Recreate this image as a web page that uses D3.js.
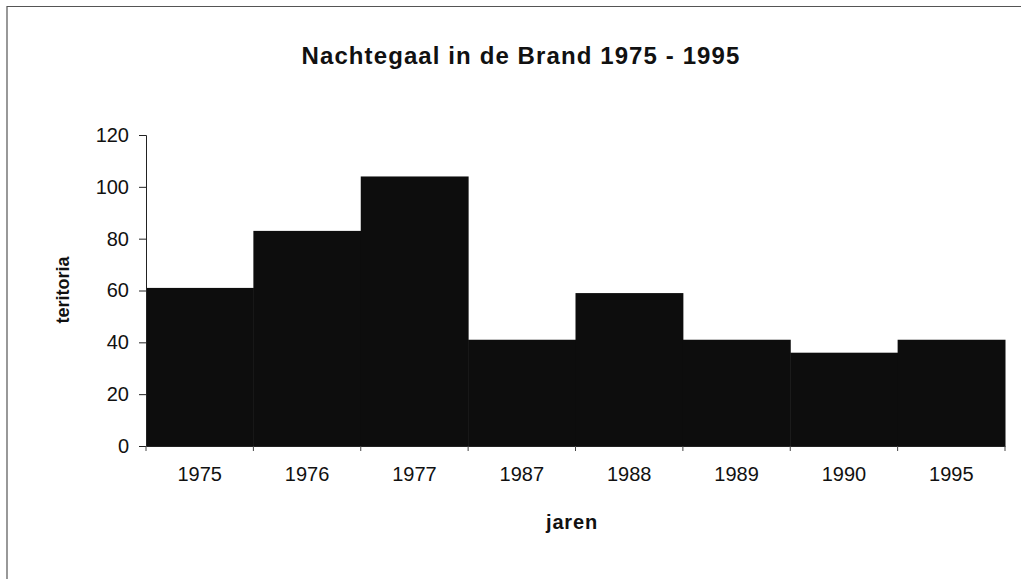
<!DOCTYPE html>
<html lang="nl">
<head>
<meta charset="UTF-8">
<title>Nachtegaal in de Brand 1975 - 1995</title>
<style>
  body { margin: 0; background: #fff; }
  svg { display: block; font-family: "Liberation Sans", Arial, sans-serif; }
  .tick text { fill: #111; }
</style>
</head>
<body>
<svg id="chart" width="1021" height="579"></svg>
<script src="https://d3js.org/d3.v7.min.js"></script>
<script>
// data
var years = ["1975", "1976", "1977", "1987", "1988", "1989", "1990", "1995"];
var territoria = [61, 83, 104, 41, 59, 41, 36, 41];
var yTicks = [0, 20, 40, 60, 80, 100, 120];

var width = 1021, height = 579;
var margin = { top: 135, right: 16, bottom: 133, left: 146 };

var svg = d3.select("#chart");

// outer frame (only top and left edges visible in the scan)
svg.append("path")
   .attr("d", "M7,579 V6.5 H1021")
   .attr("fill", "none")
   .attr("stroke", "#555")
   .attr("stroke-width", 1.2);

var x = d3.scaleBand()
          .domain(years)
          .range([margin.left, width - margin.right])
          .padding(0);

var y = d3.scaleLinear()
          .domain([0, 120])
          .range([height - margin.bottom, margin.top]);

// bars
svg.append("g")
   .selectAll("rect")
   .data(years)
   .enter()
   .append("rect")
   .attr("x", d => x(d))
   .attr("y", (d, i) => y(territoria[i]))
   .attr("width", x.bandwidth() + 0.5)
   .attr("height", (d, i) => y(0) - y(territoria[i]))
   .attr("fill", "#0d0d0d");

// y axis
var yAxis = svg.append("g")
   .attr("transform", "translate(" + margin.left + ",0)")
   .call(d3.axisLeft(y).tickValues(yTicks).tickSize(7).tickPadding(10));
yAxis.select(".domain").attr("stroke", "#222");
yAxis.selectAll(".tick line").attr("stroke", "#222");
yAxis.selectAll(".tick text").attr("font-size", 20);

// x axis: ticks between categories
var xAxis = svg.append("g")
   .attr("transform", "translate(0," + y(0) + ")")
   .call(d3.axisBottom(x).tickSize(0).tickPadding(21));
xAxis.select(".domain").attr("stroke", "#222");
xAxis.selectAll(".tick text").attr("font-size", 20);

var bounds = years.map(d => x(d)).concat([x(years[years.length - 1]) + x.bandwidth()]);
svg.append("g")
   .selectAll("line")
   .data(bounds)
   .enter()
   .append("line")
   .attr("x1", d => d)
   .attr("x2", d => d)
   .attr("y1", y(0))
   .attr("y2", y(0) + 5)
   .attr("stroke", "#444")
   .attr("stroke-width", 1);

// title
svg.append("text")
   .attr("x", 521)
   .attr("y", 64)
   .attr("text-anchor", "middle")
   .attr("font-size", 24)
   .attr("font-weight", "bold")
   .attr("letter-spacing", 1.1)
   .attr("fill", "#111")
   .text("Nachtegaal in de Brand 1975 - 1995");

// axis titles
svg.append("text")
   .attr("x", 572)
   .attr("y", 529)
   .attr("text-anchor", "middle")
   .attr("font-size", 20)
   .attr("font-weight", "bold")
   .attr("letter-spacing", 0.8)
   .attr("fill", "#111")
   .text("jaren");

svg.append("text")
   .attr("transform", "translate(69,290) rotate(-90)")
   .attr("text-anchor", "middle")
   .attr("font-size", 18)
   .attr("font-weight", "bold")
   .attr("fill", "#111")
   .text("teritoria");
</script>
</body>
</html>
